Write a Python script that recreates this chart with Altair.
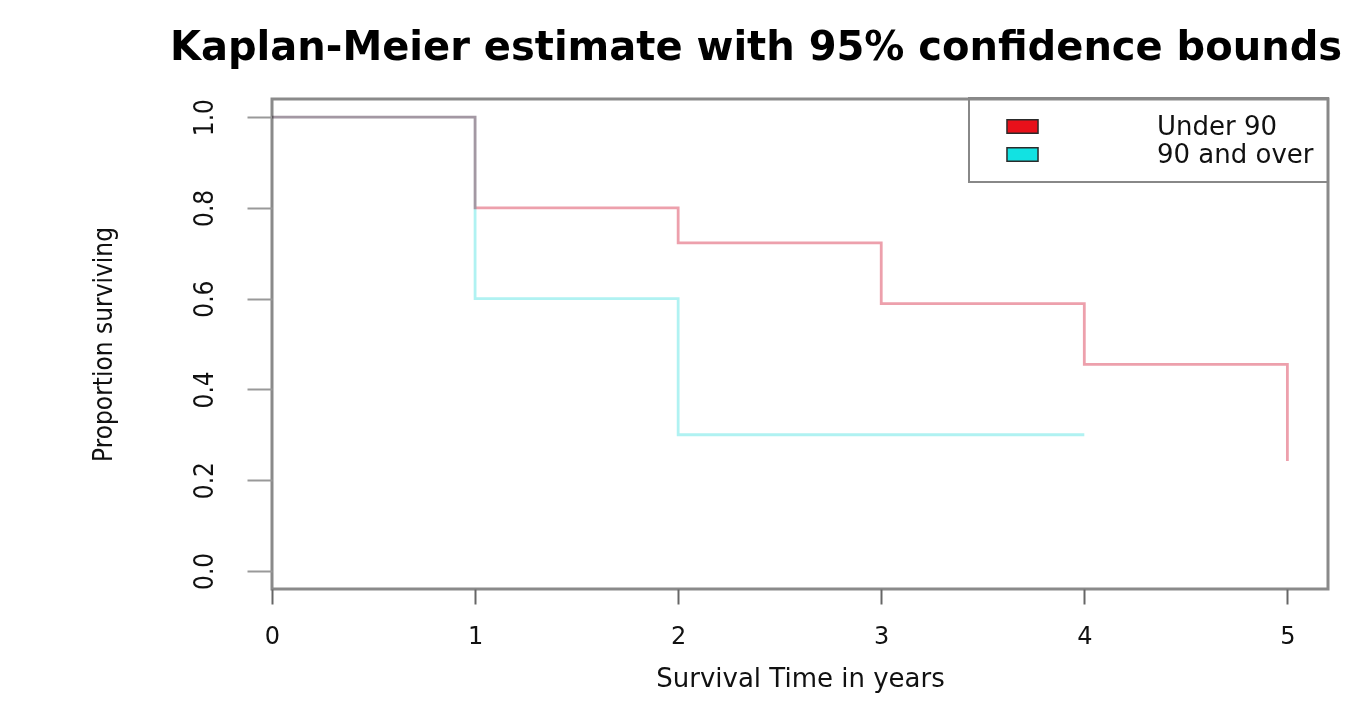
import altair as alt
import pandas as pd

# ---- data ----
groups = ["Under 90", "90 and over"]
under_time = [0, 1, 2, 3, 4, 5]
under_surv = [1.0, 0.8, 0.723, 0.589, 0.455, 0.242]
over_time = [0, 1, 2, 4]
over_surv = [1.0, 0.6, 0.3, 0.3]
x_ticks = [0, 1, 2, 3, 4, 5]
y_ticks = [0.0, 0.2, 0.4, 0.6, 0.8, 1.0]
line_colors = ["#eda0ac", "#b0f2f2"]
legend_colors = ["#e8101a", "#12e2e2"]

rows = []
for t, s in zip(under_time, under_surv):
    rows.append({"group": groups[0], "time": t, "surv": s})
for t, s in zip(over_time, over_surv):
    rows.append({"group": groups[1], "time": t, "surv": s})
df = pd.DataFrame(rows)

narrow = "'Liberation Sans Narrow', 'DejaVu Sans Condensed', sans-serif"

x = alt.X(
    "time:Q",
    scale=alt.Scale(domain=[0, 5.2], nice=False, zero=False),
    axis=alt.Axis(
        values=x_ticks, format="d", title="Survival Time in years",
        tickSize=15, tickWidth=2, tickColor="#666", labelFlush=False,
        labelPadding=20, labelFontSize=24, labelFont="DejaVu Sans",
        titleFontSize=26, titleFont="DejaVu Sans", titleFontWeight="normal",
        titlePadding=17,
    ),
)
y = alt.Y(
    "surv:Q",
    scale=alt.Scale(domain=[-0.04, 1.04], nice=False, zero=False),
    axis=alt.Axis(
        values=y_ticks, format=".1f", title="Proportion surviving",
        tickSize=25, tickWidth=2, tickColor="#999", labelFlush=False,
        labelAngle=270, labelAlign="center", labelBaseline="bottom",
        labelPadding=30, labelFontSize=26, labelFont=narrow,
        titleFontSize=26, titleFontWeight="normal", titleFont=narrow,
        titlePadding=75,
    ),
)

lines = alt.Chart(df).mark_line(
    interpolate="step-after", strokeWidth=2.8, blend="multiply"
).encode(
    x=x, y=y,
    stroke=alt.Stroke(
        "group:N", sort=groups,
        scale=alt.Scale(range=line_colors), legend=None,
    ),
)

keys = alt.Chart(df).transform_calculate(
    key="datum.group"
).mark_square(opacity=0, size=1).encode(
    x=x, y=y,
    fill=alt.Fill(
        "key:N",
        scale=alt.Scale(domain=groups, range=legend_colors),
        legend=alt.Legend(
            title=None, orient="none", legendX=697, legendY=-1,
            symbolType="M-1.15,-0.5H1.15V0.5H-1.15Z", symbolSize=729,
            symbolOpacity=1, symbolStrokeColor="#2a2a2a", symbolStrokeWidth=1.5,
            symbolOffset=25, labelOffset=120, labelFontSize=26,
            labelFont="DejaVu Sans", labelColor="#111",
            padding=14, rowPadding=0, strokeColor="#888",
        ),
    ),
)

chart = alt.layer(lines, keys).properties(
    width=1056, height=490,
    autosize="none",
    background="white",
    padding={"left": 264, "top": 91, "right": 30, "bottom": 105},
    title=alt.TitleParams(
        "Kaplan-Meier estimate with 95% confidence bounds",
        anchor="start", dx=80, fontSize=40, font="DejaVu Sans",
        fontWeight="bold", color="#000", offset=29,
    ),
).configure_view(
    stroke="#8a8a8a", strokeWidth=3
).configure_axis(
    grid=False, domain=False, labelColor="#111", titleColor="#111"
).configure_legend(
    strokeWidth=2
)

chart.save("out.html", embed_options={"renderer": "svg", "actions": False})
